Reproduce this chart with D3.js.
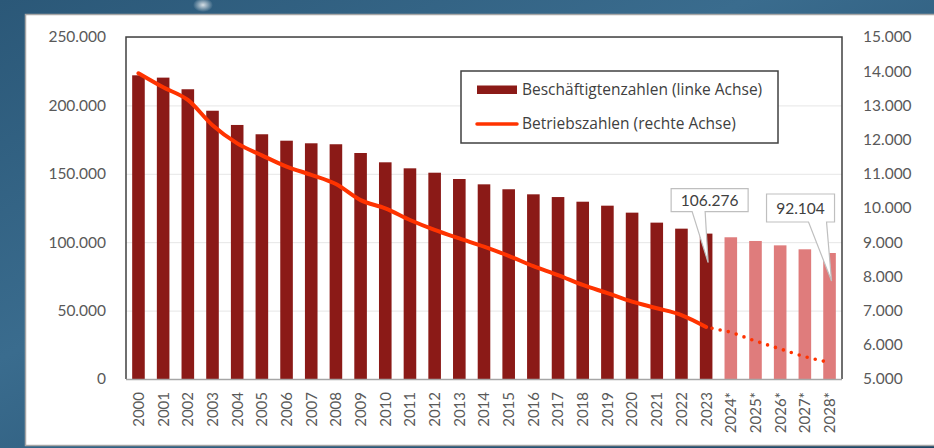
<!DOCTYPE html>
<html>
<head>
<meta charset="utf-8">
<script src="https://cdn.jsdelivr.net/npm/d3@7"></script>
<style>
  html, body { margin: 0; padding: 0; overflow: hidden; }
  body { width: 934px; height: 448px; }
  text { font-family: Lato, "Open Sans", sans-serif; }
</style>
</head>
<body>
<svg width="934" height="448"></svg>
<script>
// chart data
var years = ["2000", "2001", "2002", "2003", "2004", "2005", "2006", "2007", "2008", "2009",
    "2010", "2011", "2012", "2013", "2014", "2015", "2016", "2017", "2018", "2019",
    "2020", "2021", "2022", "2023", "2024*", "2025*", "2026*", "2027*", "2028*"];
var employees = [222000, 220300, 211800, 196100, 185700, 178900, 174200, 172300, 171600, 165200,
    158400, 154000, 150800, 146200, 142300, 138700, 135000, 133000, 129600, 126700,
    121600, 114300, 109900, 106276, 103600, 100900, 97700, 94800, 92104];
var firms = [13940, 13530, 13160, 12420, 11890, 11540, 11210, 10970, 10700, 10230,
    9990, 9650, 9360, 9110, 8870, 8600, 8300, 8040, 7750, 7510,
    7260, 7070, 6870, 6520, 6370, 6110, 5880, 5650, 5480];
var forecastFrom = "2024*";
var leftTicks = [0, 50000, 100000, 150000, 200000, 250000];
var rightTicks = [5000, 6000, 7000, 8000, 9000, 10000, 11000, 12000, 13000, 14000, 15000];
var legendLabels = ["Beschäftigtenzahlen (linke Achse)", "Betriebszahlen (rechte Achse)"];
var callouts = [{year: "2023", text: "106.276"}, {year: "2028*", text: "92.104"}];

var svg = d3.select("svg");
var plot = {left: 126, right: 842, top: 37, bottom: 379};
var fmt = d3.formatLocale({decimal: ",", thousands: ".", grouping: [3], currency: ["", "€"]}).format(",");

// background
var defs = svg.append("defs");
var bg = defs.append("linearGradient").attr("id", "bg")
    .attr("x1", 0).attr("y1", 0).attr("x2", 1).attr("y2", 1);
bg.append("stop").attr("offset", "0%").attr("stop-color", "#2b5878");
bg.append("stop").attr("offset", "40%").attr("stop-color", "#3a6c8e");
bg.append("stop").attr("offset", "100%").attr("stop-color", "#1d4564");
svg.append("rect").attr("width", 934).attr("height", 448).attr("fill", "url(#bg)");
var glow = defs.append("radialGradient").attr("id", "glow");
glow.append("stop").attr("offset", "0%").attr("stop-color", "#ffffff").attr("stop-opacity", 0.8);
glow.append("stop").attr("offset", "100%").attr("stop-color", "#ffffff").attr("stop-opacity", 0);
svg.append("ellipse").attr("cx", 203).attr("cy", 5).attr("rx", 10).attr("ry", 7).attr("fill", "url(#glow)");

// white panel
svg.append("rect")
    .attr("x", 25.5).attr("y", 14.5).attr("width", 920).attr("height", 431)
    .attr("fill", "#ffffff").attr("stroke", "#a6a6a6").attr("stroke-width", 1.5);

// scales
var xScale = d3.scaleBand().domain(years).range([plot.left, plot.right])
    .paddingInner(0.49).paddingOuter(0.25);
var yLeft = d3.scaleLinear().domain([0, 250000]).range([plot.bottom, plot.top]);
var yRight = d3.scaleLinear().domain([5000, 15000]).range([plot.bottom, plot.top]);
var cx = function (y) { return xScale(y) + xScale.bandwidth() / 2; };

// gridlines
svg.append("g")
    .attr("transform", "translate(" + plot.left + ",0)")
    .call(d3.axisRight(yLeft).tickValues(leftTicks).tickSize(plot.right - plot.left).tickFormat(""))
    .call(function (g) {
        g.select(".domain").remove();
        g.selectAll("line").attr("stroke", "#e6e6e6").attr("stroke-width", 1);
    });

// bars
var isForecast = function (i) { return i >= years.indexOf(forecastFrom); };
svg.append("g").selectAll("rect")
    .data(employees)
    .enter().append("rect")
    .attr("x", function (d, i) { return xScale(years[i]); })
    .attr("y", function (d) { return yLeft(d); })
    .attr("width", xScale.bandwidth())
    .attr("height", function (d) { return plot.bottom - yLeft(d); })
    .attr("fill", function (d, i) { return isForecast(i) ? "#df7c7c" : "#8b1a17"; });

// line
var pts = firms.map(function (d, i) { return {x: cx(years[i]), y: yRight(d)}; });
var cut = years.indexOf(forecastFrom);
var line = d3.line().x(function (d) { return d.x; }).y(function (d) { return d.y; })
    .curve(d3.curveMonotoneX);
svg.append("path")
    .attr("d", line(pts.slice(0, cut)))
    .attr("fill", "none").attr("stroke", "#ff3300").attr("stroke-width", 4)
    .attr("stroke-linecap", "round").attr("stroke-linejoin", "round");
svg.append("path")
    .attr("d", d3.line().x(function (d) { return d.x; }).y(function (d) { return d.y; })(pts.slice(cut - 1)))
    .attr("fill", "none").attr("stroke", "#ff3300").attr("stroke-width", 3.6)
    .attr("stroke-linecap", "round").attr("stroke-dasharray", "0 8.3")
    .attr("stroke-dashoffset", -6);

// plot frame
svg.append("path")
    .attr("d", "M" + plot.left + "," + plot.bottom + "V" + plot.top + "H" + plot.right + "V" + plot.bottom)
    .attr("fill", "none").attr("stroke", "#404040").attr("stroke-width", 1.5);
svg.append("line")
    .attr("x1", plot.left).attr("x2", plot.right).attr("y1", plot.bottom + 0.5).attr("y2", plot.bottom + 0.5)
    .attr("stroke", "#a6a6a6").attr("stroke-width", 1.5);

// axes
svg.append("g")
    .attr("transform", "translate(" + (plot.left - 17) + ",0)")
    .call(d3.axisLeft(yLeft).tickValues(leftTicks).tickSize(0).tickFormat(fmt))
    .call(function (g) {
        g.select(".domain").remove();
        g.selectAll("text").attr("font-size", 15.5).attr("fill", "#595959");
    });
svg.append("g")
    .attr("transform", "translate(" + (plot.right + 18) + ",0)")
    .call(d3.axisRight(yRight).tickValues(rightTicks).tickSize(0).tickFormat(fmt))
    .call(function (g) {
        g.select(".domain").remove();
        g.selectAll("text").attr("font-size", 15.5).attr("fill", "#595959");
    });
svg.append("g")
    .attr("transform", "translate(0," + plot.bottom + ")")
    .call(d3.axisBottom(xScale).tickSize(0))
    .call(function (g) {
        g.select(".domain").remove();
        g.selectAll("text")
            .attr("font-size", 15).attr("fill", "#595959")
            .attr("text-anchor", "end")
            .attr("transform", "translate(0,13) rotate(-90)")
            .attr("x", 0).attr("y", 0).attr("dy", "0.36em");
    });

// legend
var legend = svg.append("g").attr("transform", "translate(461,71)");
legend.append("rect").attr("width", 317).attr("height", 72)
    .attr("fill", "#ffffff").attr("stroke", "#404040").attr("stroke-width", 1.5);
legend.append("rect").attr("x", 16).attr("y", 14.5).attr("width", 40).attr("height", 8.5).attr("fill", "#8b1a17");
legend.append("line").attr("x1", 16).attr("x2", 56).attr("y1", 53).attr("y2", 53)
    .attr("stroke", "#ff3300").attr("stroke-width", 3.5).attr("stroke-linecap", "round");
legend.selectAll("text.lg")
    .data(legendLabels)
    .enter().append("text")
    .attr("class", "lg")
    .attr("x", 61)
    .attr("y", function (d, i) { return i ? 53 : 19; })
    .attr("dy", "0.35em")
    .style("font-family", "'Open Sans', sans-serif")
    .attr("font-size", 15.5).attr("fill", "#404040")
    .text(function (d) { return d; });

// callouts
var boxes = [{dx: -35, w: 77, h: 23, gap: 22, tail: [-16, -3], tipDy: 29},
             {dx: -63, w: 68, h: 28, gap: 31, tail: [-23, -5], tipDy: 28}];
callouts.forEach(function (c, k) {
    var i = years.indexOf(c.year);
    var tx = cx(c.year) + 2, ty = yLeft(employees[i]) + boxes[k].tipDy;
    var b = boxes[k];
    var bx = cx(c.year) + b.dx, by = yLeft(employees[i]) - b.gap - b.h;
    var path = "M" + bx + "," + by + "h" + b.w + "v" + b.h +
        "H" + (tx + b.tail[1]) + "L" + tx + "," + ty + "L" + (tx + b.tail[0]) + "," + (by + b.h) +
        "H" + bx + "Z";
    svg.append("path").attr("d", path)
        .attr("fill", "#ffffff").attr("stroke", "#bfbfbf").attr("stroke-width", 1.2);
    svg.append("text")
        .attr("x", bx + b.w / 2).attr("y", by + b.h / 2).attr("dy", "0.36em")
        .attr("text-anchor", "middle")
        .attr("font-size", 15.5).attr("fill", "#404040")
        .text(c.text);
});
</script>
</body>
</html>
